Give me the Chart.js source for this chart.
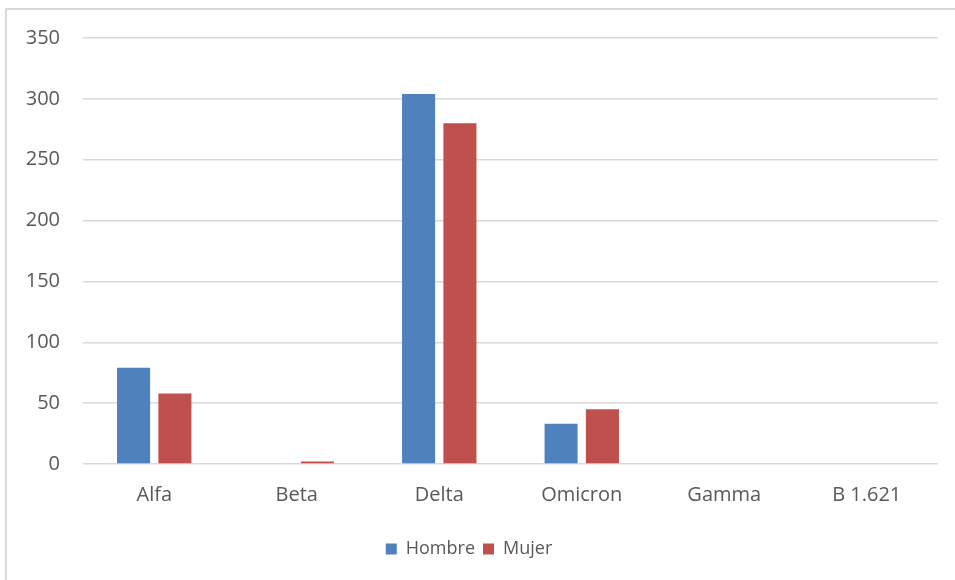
<!DOCTYPE html>
<html>
<head>
<meta charset="utf-8">
<script src="https://cdn.jsdelivr.net/npm/chart.js@4/dist/chart.umd.min.js"></script>
<style>
    html, body { margin: 0; padding: 0; background: #fff; }
    #frame {
        position: absolute; left: 5px; top: 8px; width: 960px; height: 590px;
        border: 2px solid #dadada; box-sizing: border-box;
    }
    #wrap { position: absolute; left: 0; top: 0; width: 955px; height: 580px; }
</style>
</head>
<body>
<div id="frame"></div>
<div id="wrap"><canvas id="chartCanvas" width="955" height="580"></canvas></div>
<script>
const variantes = ['Alfa', 'Beta', 'Delta', 'Omicron', 'Gamma', 'B 1.621'];
const hombre = [79, 0, 304, 33, 0, 0];
const mujer = [58, 2, 280, 45, 0, 0];
const yTicks = [0, 50, 100, 150, 200, 250, 300, 350];

const textColor = '#595959';
const fontFamily = '"Open Sans", sans-serif';

const ctx = document.getElementById('chartCanvas').getContext('2d');

const chart = new Chart(ctx, {
    type: 'bar',
    data: {
        labels: variantes,
        datasets: [
            {
                label: 'Hombre',
                data: hombre,
                backgroundColor: '#4f81bd',
                borderWidth: 0
            },
            {
                label: 'Mujer',
                data: mujer,
                backgroundColor: '#c0504d',
                borderWidth: 0
            }
        ]
    },
    options: {
        responsive: false,
        animation: false,
        layout: { padding: { left: 0, right: 17, top: 38, bottom: 12 } },
        datasets: {
            bar: { categoryPercentage: 0.58, barPercentage: 0.8 }
        },
        plugins: {
            legend: {
                position: 'bottom',
                labels: {
                    color: textColor,
                    font: { family: fontFamily, size: 18 },
                    boxWidth: 11,
                    boxHeight: 11,
                    padding: 8
                }
            },
            tooltip: { enabled: false }
        },
        scales: {
            x: {
                grid: { display: false, drawTicks: false },
                border: { display: false },
                ticks: {
                    color: textColor,
                    font: { family: fontFamily, size: 20 },
                    padding: 19,
                    maxRotation: 0
                },
                afterFit: s => { s.height = 68; }
            },
            y: {
                min: 0,
                max: 350,
                afterBuildTicks: s => { s.ticks = yTicks.map(v => ({ value: v })); },
                grid: { color: '#d9d9d9', lineWidth: 1.5, drawTicks: false },
                border: { display: false },
                ticks: {
                    color: textColor,
                    font: { family: fontFamily, size: 20 },
                    padding: 23
                },
                afterFit: s => { s.width = 83; }
            }
        }
    }
});
</script>
</body>
</html>
